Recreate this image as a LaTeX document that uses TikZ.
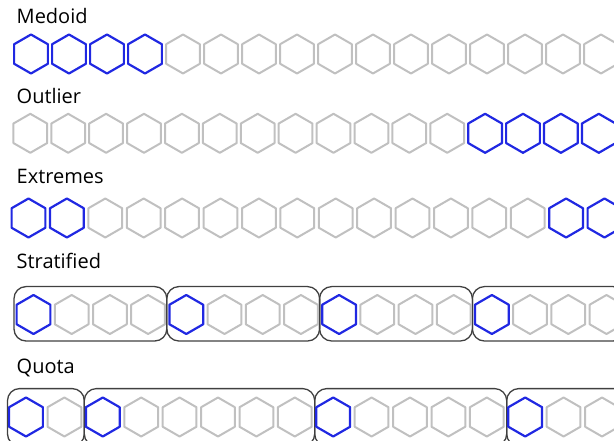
\documentclass[tikz,border=0pt]{standalone}
\usepackage{fontspec}
\setmainfont{Open Sans}
\definecolor{hexblue}{RGB}{32,40,226}
\definecolor{hexgray}{RGB}{192,192,192}
\definecolor{boxgray}{RGB}{64,64,64}
% one pointy-topped hexagon: style, centre x, centre y
\newcommand{\hexat}[3]{\draw[#1] (#2,#3) +(90:19.5) -- +(150:19.5) -- +(210:19.5) -- +(270:19.5) -- +(330:19.5) -- +(30:19.5) -- cycle;}
\begin{document}
\begin{tikzpicture}[x=1pt,y=-1pt,line join=round,
  hexg/.style={draw=hexgray,line width=2pt},
  hexb/.style={draw=hexblue,line width=2.2pt},
  grp/.style={draw=boxgray,line width=1.3pt,rounded corners=12pt},
  lbl/.style={font=\fontsize{20}{24}\selectfont,inner sep=0pt,anchor=base west}]
  \useasboundingbox (0,0) rectangle (614,441);
  \clip (0,0) rectangle (614,441);
  % row labels
  \node[lbl] (medoid) at (16.5,23.3) {Medoid};
  \node[lbl] (outlier) at (16.5,103.3) {Outlier};
  \node[lbl] (extremes) at (16.5,184) {Extremes};
  \node[lbl] (stratified) at (16.5,269) {Stratified};
  \node[lbl] (quota) at (16.5,373.3) {Quota};
  % medoid
  \foreach \i in {4,...,15} {\hexat{hexg}{31+38*\i}{54}}
  \foreach \i in {0,...,3} {\hexat{hexb}{31+38*\i}{54}}
  % outlier
  \foreach \i in {0,...,11} {\hexat{hexg}{30.3+37.9*\i}{133.3}}
  \foreach \i in {12,...,15} {\hexat{hexb}{30.3+37.9*\i}{133.3}}
  % extremes
  \foreach \i in {2,...,13} {\hexat{hexg}{28.5+38.4*\i}{218}}
  \foreach \i in {0,1,14,15} {\hexat{hexb}{28.5+38.4*\i}{218}}
  % stratified
  \foreach \k in {0,...,3} {
    \draw[grp] (33.5+152.8*\k-19.5,286.6) rectangle (33.5+152.8*\k+114.6+18.7,341);
  }
  \foreach \i in {1,2,3,5,6,7,9,10,11,13,14,15} {\hexat{hexg}{33.5+38.2*\i}{314.5}}
  \foreach \i in {0,4,8,12} {\hexat{hexb}{33.5+38.2*\i}{314.5}}
  % quota
  \foreach \a/\b in {0/1,2/7,8/12,13/18} {
    \draw[grp] (26+38.4*\a-18.5,388.6) rectangle (26+38.4*\b+19.9,446);
  }
  \foreach \i in {1,3,4,5,6,7,9,10,11,12,14,15} {\hexat{hexg}{26+38.4*\i}{417}}
  \foreach \i in {0,2,8,13} {\hexat{hexb}{26+38.4*\i}{417}}
\end{tikzpicture}
\end{document}
